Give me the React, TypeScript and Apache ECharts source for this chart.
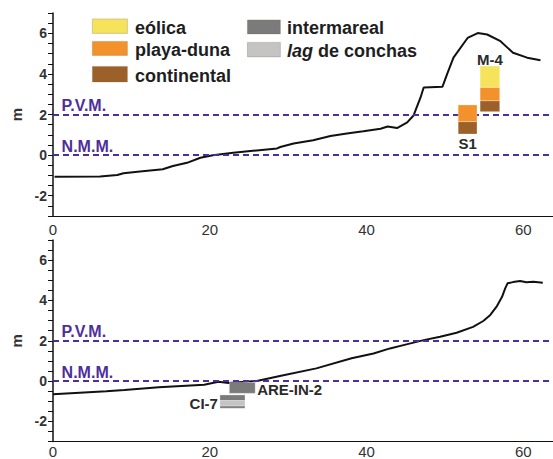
import React, { useEffect, useRef } from 'react';
import * as echarts from 'echarts';

// ---------- data ----------
const faciesNames = ['eólica', 'playa-duna', 'continental', 'intermareal', 'lag de conchas'];
const faciesColors = ['#f6e35c', '#f3922b', '#9b6128', '#7b7b7b', '#c4c4c4'];

const xTickLabels = [0, 20, 40, 60];
const yTickLabels = [-2, 0, 2, 4, 6];

// top profile: [distance (m), elevation (m)]
const profileTop: number[][] = [
  [0.2, -1.07], [6.0, -1.06], [8.2, -0.98], [9.0, -0.89], [11.1, -0.81], [13.7, -0.71],
  [14.0, -0.7], [15.3, -0.54], [17.1, -0.38], [18.8, -0.13], [20.4, -0.01], [23.0, 0.11],
  [25.5, 0.21], [28.6, 0.33], [29.0, 0.4], [30.7, 0.57], [33.2, 0.73], [35.4, 0.94],
  [37.5, 1.06], [39.6, 1.17], [41.8, 1.3], [42.7, 1.41], [43.9, 1.33], [45.2, 1.61],
  [46.0, 1.95], [46.9, 2.84], [47.3, 3.33], [49.7, 3.37], [50.3, 4.0], [51.1, 4.8],
  [52.9, 5.77], [54.2, 6.01], [55.4, 5.94], [57.1, 5.61], [58.7, 5.04], [60.5, 4.8], [62.2, 4.67],
];

// bottom profile
const profileBottom: number[][] = [
  [0, -0.65], [6.8, -0.51], [9.1, -0.45], [13.5, -0.31], [19.3, -0.18], [21.1, -0.03],
  [22.4, -0.1], [26.0, 0.0], [29.1, 0.26], [33.6, 0.63], [38.1, 1.13], [40.9, 1.37],
  [43.0, 1.62], [45.1, 1.82], [47.3, 2.03], [49.4, 2.2], [51.5, 2.4], [53.6, 2.69],
  [54.9, 2.98], [55.8, 3.28], [56.6, 3.69], [57.3, 4.18], [57.7, 4.6], [58.0, 4.85],
  [58.7, 4.91], [59.6, 4.96], [60.4, 4.9], [61.3, 4.93], [62.5, 4.88],
];

const referenceNames = ['P.V.M.', 'N.M.M.'];
const referenceValues = [2, 0];

// section layers: [x0, x1, yBase, yTop, facies index]
const sectionS1: number[][] = [
  [51.7, 54.1, 1.04, 1.65, 2],
  [51.7, 54.1, 1.65, 2.47, 1],
];
const sectionM4: number[][] = [
  [54.5, 57.0, 2.14, 2.68, 2],
  [54.5, 57.0, 2.68, 3.34, 1],
  [54.5, 57.0, 3.34, 4.39, 0],
];
const sectionARE: number[][] = [
  [22.5, 25.8, -0.61, -0.07, 3],
];
const sectionCI7: number[][] = [
  [21.3, 24.5, -0.97, -0.69, 3],
  [21.3, 24.5, -1.24, -0.97, 4],
  [21.3, 24.5, -1.35, -1.24, 3],
];

const sectionNamesTop = ['S1', 'M-4'];
const sectionNamesBottom = ['ARE-IN-2', 'CI-7'];

// ---------- styling ----------
const FONT = '"Liberation Sans", Arial, Helvetica, sans-serif';
const PURPLE = '#4f2e9a';
const TEXT = '#2a2a2a';

function bbox(layers: number[][]) {
  return {
    x0: Math.min(...layers.map((l) => l[0])),
    x1: Math.max(...layers.map((l) => l[1])),
    y0: Math.min(...layers.map((l) => l[2])),
    y1: Math.max(...layers.map((l) => l[3])),
  };
}

function blockSeries(gridIdx: number, layers: number[][]) {
  return {
    type: 'custom',
    xAxisIndex: gridIdx,
    yAxisIndex: gridIdx,
    z: 5,
    silent: true,
    data: layers,
    renderItem: (_p: any, api: any) => {
      const a = api.coord([api.value(0), api.value(3)]);
      const b = api.coord([api.value(1), api.value(2)]);
      return {
        type: 'rect',
        shape: { x: a[0], y: a[1], width: b[0] - a[0], height: b[1] - a[1] },
        style: { fill: faciesColors[api.value(4)], stroke: 'rgba(255,255,255,0.35)', lineWidth: 0.8 },
      };
    },
  };
}

// placement: 'below' | 'above' | 'right' | 'left'
function labelSeries(gridIdx: number, names: string[], sections: number[][][], placements: string[]) {
  const pts = sections.map((s, i) => {
    const b = bbox(s);
    const pl = placements[i];
    if (pl === 'below') return [(b.x0 + b.x1) / 2, b.y0];
    if (pl === 'above') return [(b.x0 + b.x1) / 2, b.y1];
    if (pl === 'right') return [b.x1, (b.y0 + b.y1) / 2];
    return [b.x0, (b.y0 + b.y1) / 2];
  });
  return {
    type: 'custom',
    xAxisIndex: gridIdx,
    yAxisIndex: gridIdx,
    z: 6,
    silent: true,
    data: pts,
    renderItem: (params: any, api: any) => {
      const p = api.coord([api.value(0), api.value(1)]);
      const pl = placements[params.dataIndex];
      let x = p[0];
      let y = p[1];
      let align = 'center';
      if (pl === 'below') y += 10;
      else if (pl === 'above') y -= 6;
      else if (pl === 'right') { x += 2; y += 2; align = 'left'; }
      else { x -= 2; y += 1.5; align = 'right'; }
      return {
        type: 'text',
        x,
        y,
        style: {
          text: names[params.dataIndex],
          fill: TEXT,
          font: `bold 15px ${FONT}`,
          align,
          verticalAlign: 'middle',
        },
      };
    },
  };
}

function refLabelSeries(gridIdx: number) {
  return {
    type: 'custom',
    xAxisIndex: gridIdx,
    yAxisIndex: gridIdx,
    z: 6,
    silent: true,
    data: referenceValues.map((v) => [1.1, v]),
    renderItem: (params: any, api: any) => {
      const p = api.coord([api.value(0), api.value(1)]);
      return {
        type: 'text',
        x: p[0],
        y: p[1] - 9,
        style: {
          text: referenceNames[params.dataIndex],
          fill: PURPLE,
          font: `bold 16px ${FONT}`,
          align: 'left',
          verticalAlign: 'middle',
        },
      };
    },
  };
}

function lineSeries(gridIdx: number, data: number[][]) {
  return {
    type: 'line',
    xAxisIndex: gridIdx,
    yAxisIndex: gridIdx,
    data,
    symbol: 'none',
    smooth: false,
    z: 3,
    lineStyle: { color: '#111', width: 2 },
    markLine: {
      silent: true,
      symbol: ['none', 'none'],
      label: { show: false },
      lineStyle: { color: PURPLE, type: [6, 4], width: 2 },
      data: referenceValues.map((v) => ({ yAxis: v })),
    },
  };
}

function xAxisCfg(gridIdx: number, max: number, margin: number) {
  return {
    type: 'value',
    gridIndex: gridIdx,
    min: 0,
    max,
    interval: 20,
    axisLine: { show: true, onZero: false, lineStyle: { color: '#111', width: 1.2 } },
    axisTick: { show: false },
    splitLine: { show: false },
    axisLabel: {
      fontFamily: FONT,
      fontSize: 15,
      color: '#333',
      margin,
      formatter: (v: number) => (xTickLabels.includes(v) ? String(v) : ''),
    },
  };
}

function yAxisCfg(gridIdx: number) {
  return {
    type: 'value',
    gridIndex: gridIdx,
    min: -3,
    max: 7,
    interval: 1,
    name: 'm',
    nameLocation: 'middle',
    nameGap: 28,
    nameRotate: 90,
    nameTextStyle: { fontFamily: FONT, fontWeight: 'bold', fontSize: 15, color: '#333' },
    axisLine: { show: true, onZero: false, lineStyle: { color: '#111', width: 1.5 } },
    axisTick: { show: true, length: 5, lineStyle: { color: '#111', width: 1 } },
    minorTick: { show: true, splitNumber: 2, length: 5, lineStyle: { color: '#111', width: 1 } },
    splitLine: { show: false },
    minorSplitLine: { show: false },
    axisLabel: {
      fontFamily: FONT,
      fontWeight: 'bold',
      fontSize: 14,
      color: '#333',
      margin: 6,
      formatter: (v: number) => (yTickLabels.includes(v) ? String(v) : ''),
    },
  };
}

function legendGraphic() {
  const slots = [
    [92, 18.5, 35, 14.5, 135, 27.6],
    [92, 41, 35, 14, 135, 49.6],
    [92, 66, 35, 15.5, 135, 76.2],
    [247, 19.5, 33, 14, 287, 28.2],
    [247, 42, 33, 14.5, 287, 51.2],
  ];
  const els: any[] = [];
  faciesNames.forEach((name, i) => {
    const [bx, by, bw, bh, tx, ty] = slots[i];
    els.push({
      type: 'rect',
      left: bx,
      top: by,
      shape: { width: bw, height: bh },
      style: { fill: faciesColors[i], stroke: 'rgba(120,100,60,0.35)', lineWidth: 0.8 },
    });
    const isLag = name.startsWith('lag ');
    els.push({
      type: 'text',
      x: tx,
      y: ty,
      style: {
        text: isLag ? `{i|lag}${name.slice(3)}` : name,
        fill: '#1e1e1e',
        font: `bold 18px ${FONT}`,
        verticalAlign: 'middle',
        align: 'left',
        rich: isLag ? { i: { fontStyle: 'italic', fontWeight: 'bold', fontSize: 18, fontFamily: FONT, fill: '#1e1e1e' } } : undefined,
      },
    });
  });
  return els;
}

export default function App() {
  const ref = useRef<HTMLDivElement>(null);
  useEffect(() => {
    if (!ref.current) return;
    const chart = echarts.init(ref.current, null, { renderer: 'svg' });
    const topS = [sectionS1, sectionM4];
    const botS = [sectionARE, sectionCI7];
    chart.setOption({
      animation: false,
      backgroundColor: '#ffffff',
      textStyle: { fontFamily: FONT },
      grid: [
        { left: 53, top: 13, width: 500, height: 203, outerBoundsMode: 'none', containLabel: false },
        { left: 53, top: 240, width: 500, height: 201.5, outerBoundsMode: 'none', containLabel: false },
      ],
      xAxis: [xAxisCfg(0, 63.8, 6), xAxisCfg(1, 63.8, 2)],
      yAxis: [yAxisCfg(0), yAxisCfg(1)],
      graphic: legendGraphic(),
      series: [
        lineSeries(0, profileTop),
        lineSeries(1, profileBottom),
        ...topS.map((s) => blockSeries(0, s)),
        ...botS.map((s) => blockSeries(1, s)),
        labelSeries(0, sectionNamesTop, topS, ['below', 'above']),
        labelSeries(1, sectionNamesBottom, botS, ['right', 'left']),
        refLabelSeries(0),
        refLabelSeries(1),
      ],
    });
    return () => chart.dispose();
  }, []);
  return (
    <div
      ref={ref}
      style={{ position: 'fixed', left: 0, top: 0, width: 553, height: 459, background: '#fff' }}
    />
  );
}
